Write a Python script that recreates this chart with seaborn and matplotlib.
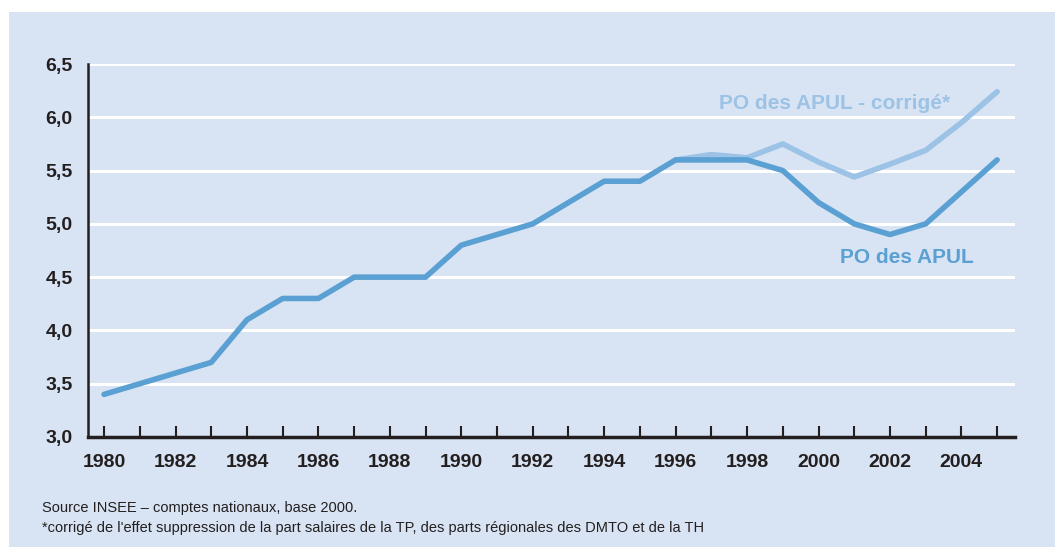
import matplotlib
matplotlib.use("Agg")
import matplotlib.pyplot as plt
from matplotlib.patches import Rectangle
from matplotlib.ticker import FuncFormatter, MultipleLocator
import pandas as pd
import seaborn as sns

BG = "#d8e4f3"
DARK = "#5aa0d3"
LIGHT = "#9cc2e6"

years = list(range(1980, 2006))
po_apul = [3.4, 3.5, 3.6, 3.7, 4.1, 4.3, 4.3, 4.5, 4.5, 4.5, 4.8, 4.9, 5.0,
           5.2, 5.4, 5.4, 5.6, 5.6, 5.6, 5.5, 5.2, 5.0, 4.9, 5.0, 5.3, 5.6]
years_corr = list(range(1996, 2006))
po_apul_corr = [5.6, 5.65, 5.62, 5.75, 5.58, 5.44, 5.56, 5.69, 5.95, 6.24]

label_main = "PO des APUL"
label_corr = "PO des APUL - corrigé*"
source_lines = [
    "Source INSEE – comptes nationaux, base 2000.",
    "*corrigé de l'effet suppression de la part salaires de la TP, des parts régionales des DMTO et de la TH",
]

df_main = pd.DataFrame({"annee": years, "valeur": po_apul})
df_corr = pd.DataFrame({"annee": years_corr, "valeur": po_apul_corr})

sns.set_style("white", {"axes.facecolor": BG})
plt.rcParams["font.family"] = ["Liberation Sans", "DejaVu Sans"]

fig = plt.figure(figsize=(10.55, 5.47), dpi=100, facecolor="white")
# light blue panel behind everything, white strip on top and left
fig.add_artist(Rectangle((9 / 1055, 0), 1, 1 - 12 / 547,
                         transform=fig.transFigure, facecolor=BG,
                         edgecolor="none", zorder=-10))
ax = fig.add_axes([88 / 1055, 1 - 437 / 547, 927 / 1055, 373 / 547])
ax.set_zorder(1)
ax.set_facecolor(BG)

for v in [3.5, 4.0, 4.5, 5.0, 5.5, 6.0, 6.5]:
    ax.axhline(v, color="white", lw=2.2, zorder=1)

sns.lineplot(data=df_corr, x="annee", y="valeur", ax=ax, color=LIGHT,
             lw=4, zorder=3)
sns.lineplot(data=df_main, x="annee", y="valeur", ax=ax, color=DARK,
             lw=4, zorder=4)

ax.set_xlim(1979.55, 2005.5)
ax.set_ylim(3.0, 6.5)
ax.set_xlabel("")
ax.set_ylabel("")

ax.yaxis.set_major_locator(MultipleLocator(0.5))
ax.yaxis.set_major_formatter(FuncFormatter(lambda v, p: f"{v:.1f}".replace(".", ",")))
ax.xaxis.set_major_locator(MultipleLocator(2))
ax.xaxis.set_minor_locator(MultipleLocator(1))
ax.xaxis.set_major_formatter(FuncFormatter(lambda v, p: f"{int(v)}"))

ax.tick_params(axis="y", length=0, pad=11, labelsize=14, labelcolor="#231f20")
ax.tick_params(axis="x", which="both", bottom=True, direction="in", length=8,
               width=1.5, color="#231f20", pad=12, labelsize=14,
               labelcolor="#231f20")
for lab in ax.get_xticklabels() + ax.get_yticklabels():
    lab.set_fontweight("bold")

for side in ["top", "right"]:
    ax.spines[side].set_visible(False)
ax.spines["left"].set_color("#231f20")
ax.spines["left"].set_linewidth(1.8)
ax.spines["bottom"].set_color("#231f20")
ax.spines["bottom"].set_linewidth(2.5)

ax.text(1997.2, 6.13, label_corr, color=LIGHT, fontsize=15, fontweight="bold",
        ha="left", va="center")
ax.text(2000.6, 4.68, label_main, color=DARK, fontsize=15, fontweight="bold",
        ha="left", va="center")

for i, line in enumerate(source_lines):
    fig.text(42 / 1055, 1 - (508 + 20 * i) / 547, line, fontsize=10.5,
             color="#231f20", ha="left", va="center")

fig.savefig("out.png", dpi=100, facecolor="white")
